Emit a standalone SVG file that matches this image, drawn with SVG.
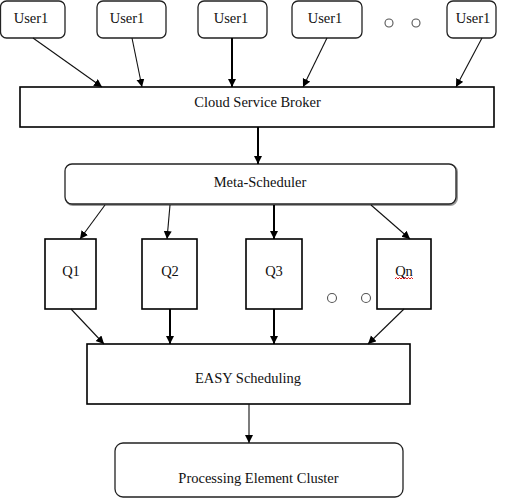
<svg xmlns="http://www.w3.org/2000/svg" width="514" height="498" viewBox="0 0 514 498">
  <style>
    .lbl { font-family: "Liberation Serif", "Times New Roman", serif; font-size: 14.5px; fill: #111; text-anchor: middle; }
    .rbox { fill: #fff; stroke: #222; stroke-width: 1.3; }
    .shadow { fill: none; stroke: #9a9a9a; stroke-width: 2; }
    .box { fill: #fff; stroke: #000; stroke-width: 1.6; }
    .thin { fill: none; stroke: #111; stroke-width: 1.1; marker-end: url(#arr); }
    .thick { fill: none; stroke: #000; stroke-width: 2; marker-end: url(#arr); }
    .dot { fill: #fff; stroke: #555; stroke-width: 1.1; }
  </style>
  <defs>
    <marker id="arr" markerUnits="userSpaceOnUse" markerWidth="10" markerHeight="10" refX="8" refY="4" orient="auto">
      <path d="M0,0 L8,4 L0,8 Z" fill="#000"/>
    </marker>
  </defs>
  <rect width="514" height="498" fill="#fff"/>

  <!-- users -->
  <g id="user-a">
    <rect class="rbox" x="0.5" y="1" width="64.5" height="37" rx="6"/>
    <text class="lbl" x="31" y="23">User1</text>
  </g>
  <g id="user-b">
    <rect class="rbox" x="97" y="1" width="69" height="37" rx="6" stroke="#555"/>
    <text class="lbl" x="127" y="23">User1</text>
  </g>
  <g id="user-c">
    <rect class="rbox" x="198" y="1" width="69" height="37" rx="6"/>
    <text class="lbl" x="231" y="23">User1</text>
  </g>
  <g id="user-d">
    <rect class="rbox" x="292" y="1" width="70" height="37" rx="6"/>
    <text class="lbl" x="325" y="23">User1</text>
  </g>
  <g id="user-more">
    <circle class="dot" cx="389" cy="23" r="4"/>
    <circle class="dot" cx="416" cy="23" r="4"/>
  </g>
  <g id="user-e">
    <rect class="rbox" x="447" y="1" width="49" height="37" rx="6"/>
    <text class="lbl" x="473" y="23">User1</text>
  </g>

  <!-- broker -->
  <g id="broker">
    <rect class="box" x="20" y="87" width="474" height="40"/>
    <text class="lbl" x="257.5" y="107">Cloud Service Broker</text>
  </g>

  <!-- meta-scheduler -->
  <g id="meta">
    <rect class="shadow" x="66" y="165" width="391" height="40" rx="7"/>
    <rect class="rbox" x="65" y="164" width="391" height="40" rx="7"/>
    <text class="lbl" x="260" y="187">Meta-Scheduler</text>
  </g>

  <!-- queues -->
  <g id="q1">
    <rect class="box" x="45" y="239" width="51" height="70"/>
    <text class="lbl" x="71" y="276">Q1</text>
  </g>
  <g id="q2">
    <rect class="box" x="142" y="239" width="55" height="70"/>
    <text class="lbl" x="170" y="276">Q2</text>
  </g>
  <g id="q3">
    <rect class="box" x="246" y="239" width="56" height="70"/>
    <text class="lbl" x="274" y="276">Q3</text>
  </g>
  <g id="q-more">
    <circle class="dot" cx="332" cy="298" r="4.5"/>
    <circle class="dot" cx="366" cy="298" r="4.5"/>
  </g>
  <g id="qn">
    <rect class="box" x="377" y="239" width="54" height="70"/>
    <text class="lbl" x="404" y="276">Qn</text>
    <path d="M395,279 l1.5,-1.5 l1.5,1.5 l1.5,-1.5 l1.5,1.5 l1.5,-1.5 l1.5,1.5 l1.5,-1.5 l1.5,1.5 l1.5,-1.5 l1.5,1.5 l1.5,-1.5 l1.5,1.5" fill="none" stroke="#d00" stroke-width="0.9"/>
  </g>

  <!-- easy scheduling -->
  <g id="easy">
    <rect class="box" x="87" y="344" width="323" height="60"/>
    <text class="lbl" x="248" y="383">EASY Scheduling</text>
  </g>

  <!-- processing element cluster -->
  <g id="cluster">
    <rect class="rbox" x="115" y="443" width="288" height="54" rx="8"/>
    <text class="lbl" x="258.5" y="483">Processing Element Cluster</text>
  </g>

  <!-- connectors -->
  <g id="connectors">
    <line class="thin" x1="33" y1="38" x2="102" y2="87"/>
    <line class="thin" x1="132" y1="38" x2="142" y2="87"/>
    <line class="thick" x1="232" y1="38" x2="232" y2="87"/>
    <line class="thin" x1="327" y1="38" x2="303" y2="87"/>
    <line class="thin" x1="482" y1="38" x2="456" y2="87"/>

    <line class="thick" x1="258" y1="127" x2="258" y2="164"/>

    <line class="thin" x1="105" y1="205" x2="80" y2="239"/>
    <line class="thin" x1="170" y1="205" x2="167" y2="239"/>
    <line class="thick" x1="274" y1="205" x2="274" y2="239"/>
    <line class="thin" x1="371" y1="205" x2="410" y2="239"/>

    <line class="thin" x1="71" y1="309" x2="104" y2="344"/>
    <line class="thick" x1="170" y1="309" x2="170" y2="344"/>
    <line class="thick" x1="274" y1="309" x2="274" y2="344"/>
    <line class="thin" x1="404" y1="309" x2="368" y2="344"/>

    <line class="thin" x1="249" y1="404" x2="249" y2="443"/>
  </g>
</svg>
